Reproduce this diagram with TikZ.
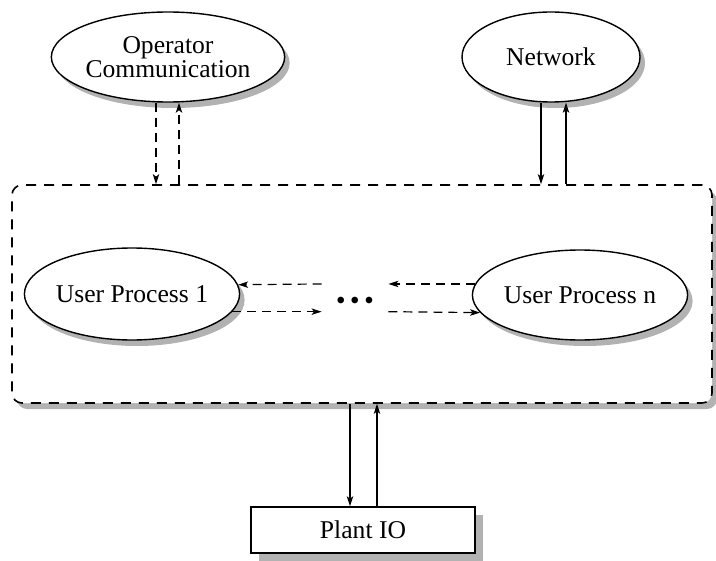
\documentclass[tikz,border=0pt]{standalone}
\usepackage{fontspec}
\setmainfont{Liberation Serif}
\usetikzlibrary{arrows.meta,shadows,shapes.geometric}
\begin{document}
\begin{tikzpicture}[x=0.5pt,y=-0.5pt,
  font=\fontsize{12.8}{14.5}\selectfont,
  shad/.style={drop shadow={shadow xshift=2.5pt,shadow yshift=-3pt,fill=black!30,opacity=1}},
  proc/.style={ellipse,draw,line width=0.7pt,fill=white,inner sep=0pt,shad},
  arr/.style={line width=0.6pt,-{Stealth[length=5pt,width=3.2pt,inset=1.2pt]}},
  darr/.style={arr,dash pattern=on 4.5pt off 3pt}]
\useasboundingbox (0,0) rectangle (716,561);

\node[draw,dash pattern=on 5pt off 4pt,line width=0.8pt,rounded corners=5pt,fill=white,
  minimum width=350pt,minimum height=109pt,inner sep=0pt,shad] (sys) at (362,294) {};

\node[proc,minimum width=93pt,minimum height=45pt,align=center,
  font=\fontsize{12.8}{9.6}\selectfont] (op) at (168,57) {Operator\\Communication};
\node[proc,minimum width=89pt,minimum height=45pt] (net) at (551,57) {Network};
\node[proc,minimum width=96pt,minimum height=46pt] (up1) at (132,294) {User Process 1};
\node[proc,minimum width=93pt,minimum height=45pt] (upn) at (580,295) {User Process n};
\node[minimum width=33pt,inner sep=0pt,font=\fontsize{8}{8}\selectfont] (dots) at (355,301)
  {${\bullet}\mkern6mu{\bullet}\mkern6mu{\bullet}$};
\node[draw,line width=0.7pt,fill=white,minimum width=112pt,minimum height=23pt,
  drop shadow={shadow xshift=4pt,shadow yshift=-4pt,fill=black!30,opacity=1}] (plant) at (363,530) {Plant IO};

\draw[darr] ([xshift=-6pt]op.south) -- ([xshift=-6pt]op.south |- sys.north);
\draw[darr] ([xshift=5.5pt]op.south |- sys.north) -- ([xshift=5.5pt]op.south);
\draw[arr] ([xshift=-5pt]net.south) -- ([xshift=-5pt]net.south |- sys.north);
\draw[arr] ([xshift=7.5pt]net.south |- sys.north) -- ([xshift=7.5pt]net.south);

\draw[darr] (upn.174) -- (dots.east |- upn.174);
\draw[darr] (dots.west |- upn.174) -- (up1.5);
\draw[darr] (up1.-10) -- (dots.west |- up1.-10);
\draw[darr] (dots.east |- up1.-10) -- (upn.190);

\draw[arr] ([xshift=-6.5pt]plant.north |- sys.south) -- ([xshift=-6.5pt]plant.north);
\draw[arr] ([xshift=7pt]plant.north) -- ([xshift=7pt]plant.north |- sys.south);
\end{tikzpicture}
\end{document}
